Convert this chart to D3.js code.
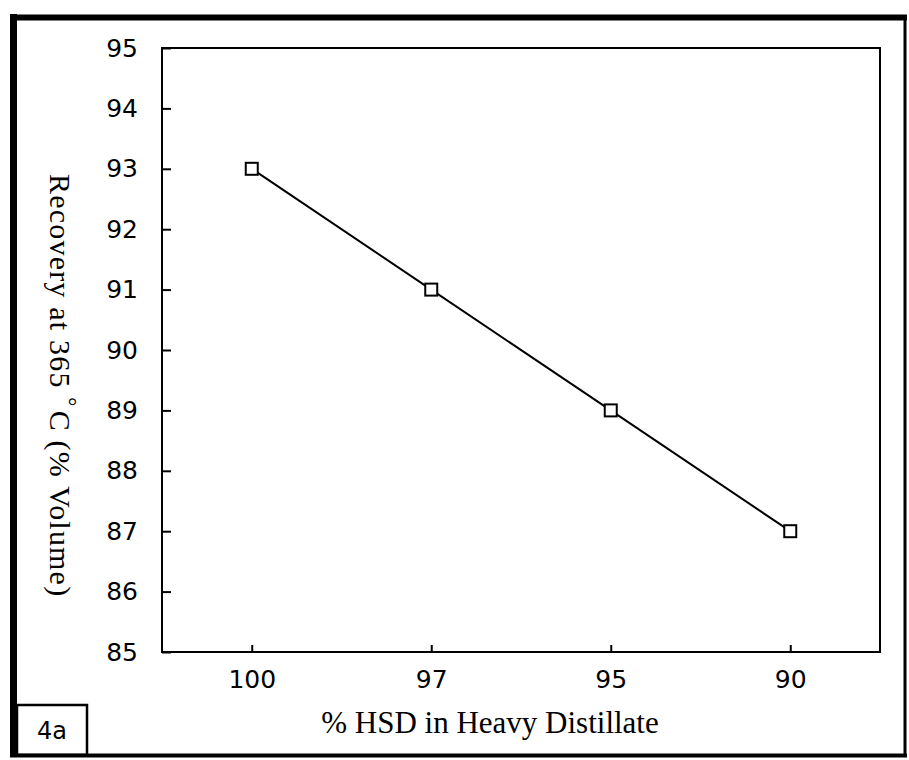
<!DOCTYPE html>
<html>
<head>
<meta charset="utf-8">
<script src="https://cdn.jsdelivr.net/npm/d3@7/dist/d3.min.js"></script>
<style>
  html, body { margin: 0; padding: 0; background: #fff; }
  svg { display: block; }
</style>
</head>
<body>
<svg id="chart" width="909" height="760"></svg>
<script>
// Recovery at 365 °C versus HSD share in the heavy distillate
const categories = ["100", "97", "95", "90"];
const recovery = [93, 91, 89, 87];
const yTicks = [85, 86, 87, 88, 89, 90, 91, 92, 93, 94, 95];
const panelLabel = "4a";
const xTitle = "% HSD in Heavy Distillate";
const yTitleParts = ["Recovery at 365 ", "°", "C (% Volume)"];

const svg = d3.select("#chart");
const plot = { left: 162, top: 48, right: 880, bottom: 652 };

const x = d3.scalePoint().domain(categories).range([plot.left, plot.right]).padding(0.5);
const y = d3.scaleLinear().domain([85, 95]).range([plot.bottom, plot.top]);

const ink = "#000";
const tickFont = "'DejaVu Sans', sans-serif";
const serif = "'Liberation Serif', 'Times New Roman', serif";

// outer page frame: heavy left/top edges, lighter right/bottom
svg.append("line").attr("x1", 13.5).attr("x2", 13.5).attr("y1", 14).attr("y2", 757)
  .attr("stroke", ink).attr("stroke-width", 7);
svg.append("line").attr("x1", 10).attr("x2", 907).attr("y1", 17.5).attr("y2", 17.5)
  .attr("stroke", ink).attr("stroke-width", 6);
svg.append("line").attr("x1", 905).attr("x2", 905).attr("y1", 15).attr("y2", 757)
  .attr("stroke", ink).attr("stroke-width", 3);
svg.append("line").attr("x1", 10).attr("x2", 907).attr("y1", 755.5).attr("y2", 755.5)
  .attr("stroke", ink).attr("stroke-width", 4);

// panel tag box
svg.append("rect").attr("x", 17).attr("y", 705).attr("width", 70).attr("height", 50)
  .attr("fill", "none").attr("stroke", ink).attr("stroke-width", 2.5);
svg.append("text").attr("x", 52).attr("y", 739).attr("text-anchor", "middle")
  .attr("font-family", tickFont).attr("font-size", 24).attr("fill", ink).text(panelLabel);

// plot frame
svg.append("rect").attr("x", plot.left).attr("y", plot.top)
  .attr("width", plot.right - plot.left).attr("height", plot.bottom - plot.top)
  .attr("fill", "none").attr("stroke", ink).attr("stroke-width", 2);

// y axis: inward ticks, labels on the left
const yAxis = d3.axisLeft(y).tickValues(yTicks).tickSize(-9).tickPadding(24).tickFormat(d3.format("d"));
const gy = svg.append("g").attr("transform", `translate(${plot.left},0)`).call(yAxis);
gy.select(".domain").remove();
gy.selectAll(".tick line").attr("stroke", ink).attr("stroke-width", 2);
gy.selectAll(".tick text").attr("font-family", tickFont).attr("font-size", 25).attr("fill", ink);

// x axis: inward ticks, category labels below
const xAxis = d3.axisBottom(x).tickSize(-7).tickPadding(18);
const gx = svg.append("g").attr("transform", `translate(0,${plot.bottom})`).call(xAxis);
gx.select(".domain").remove();
gx.selectAll(".tick line").attr("stroke", ink).attr("stroke-width", 2);
gx.selectAll(".tick text").attr("font-family", tickFont).attr("font-size", 25).attr("fill", ink);

// axis titles
svg.append("text").attr("x", 490).attr("y", 733).attr("text-anchor", "middle")
  .attr("font-family", serif).attr("font-size", 31).attr("fill", ink).text(xTitle);

const yt = svg.append("text").attr("transform", "translate(50,174) rotate(90)")
  .attr("text-anchor", "start").attr("font-family", serif).attr("font-size", 30)
  .attr("letter-spacing", 1.2).attr("fill", ink);
yt.append("tspan").text(yTitleParts[0]);
yt.append("tspan").attr("dy", -10).attr("font-size", 23).text(yTitleParts[1]);
yt.append("tspan").attr("dy", 10).attr("dx", 3).text(yTitleParts[2]);

// data line and square markers
const pts = categories.map((c, i) => ({ c, v: recovery[i] }));
svg.append("path").datum(pts)
  .attr("d", d3.line().x(d => x(d.c)).y(d => y(d.v)))
  .attr("fill", "none").attr("stroke", ink).attr("stroke-width", 2);
const m = 12;
svg.selectAll("rect.mark").data(pts).join("rect").attr("class", "mark")
  .attr("x", d => x(d.c) - m / 2).attr("y", d => y(d.v) - m / 2)
  .attr("width", m).attr("height", m)
  .attr("fill", "#fff").attr("stroke", ink).attr("stroke-width", 2);
</script>
</body>
</html>
